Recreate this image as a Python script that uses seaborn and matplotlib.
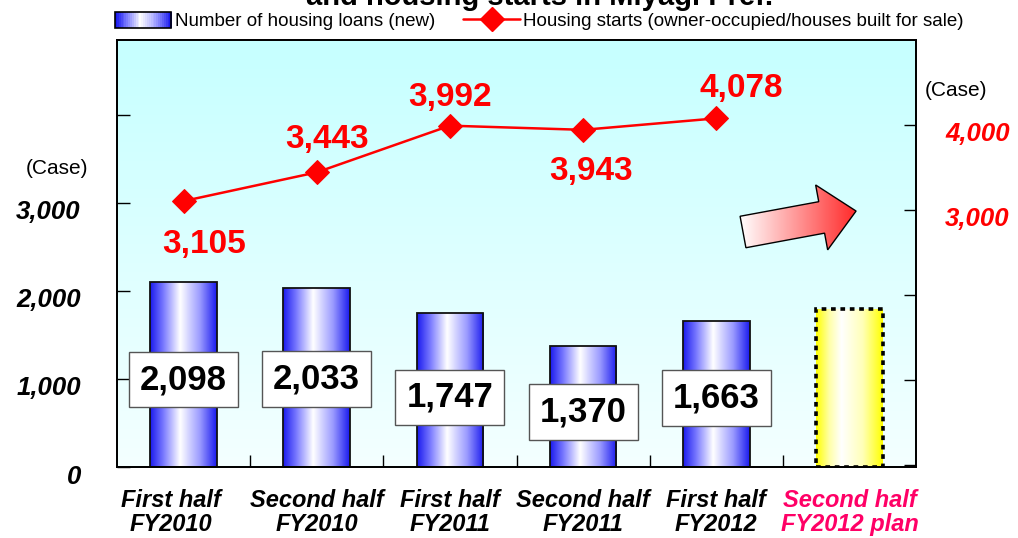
import numpy as np
import matplotlib
matplotlib.use("Agg")
import matplotlib.pyplot as plt
import seaborn as sns
from matplotlib.colors import LinearSegmentedColormap
from matplotlib.patches import Polygon, Rectangle
from matplotlib.lines import Line2D
from matplotlib.legend_handler import HandlerBase
from matplotlib.transforms import ScaledTranslation

# Data
periods = ["First half\nFY2010", "Second half\nFY2010", "First half\nFY2011",
           "Second half\nFY2011", "First half\nFY2012", "Second half\nFY2012 plan"]
loans = [2098, 2033, 1747, 1370, 1663, 1800]
loan_labels = ["2,098", "2,033", "1,747", "1,370", "1,663"]
starts = [3105, 3443, 3992, 3943, 4078]
start_labels = ["3,105", "3,443", "3,992", "3,943", "4,078"]
left_ticks = [0, 1000, 2000, 3000, 4000]
left_ticklabels = ["0", "1,000", "2,000", "3,000", ""]
right_ticks = [0, 1000, 2000, 3000, 4000]
right_ticklabels = ["", "", "", "3,000", "4,000"]

# label placement (data units for the boxes, pixel offsets for the red numbers)
loan_label_y = [990, 1000, 790, 625, 785]
start_offsets = [(21, -43), (10, 33), (0, 28), (8, -42), (25, 30)]

sns.set_style("white")
plt.rcParams["font.family"] = ["Liberation Sans", "DejaVu Sans"]
plt.rcParams["text.color"] = "black"
plt.rcParams["xtick.color"] = "black"
plt.rcParams["ytick.color"] = "black"
plt.rcParams["axes.labelcolor"] = "black"

W, H = 1018, 538
fig = plt.figure(figsize=(W / 100, H / 100), dpi=100)
ax = fig.add_axes([117 / W, 71 / H, 799 / W, 427 / H])

# background gradient
bg = LinearSegmentedColormap.from_list("bg", ["#f4ffff", "#c6ffff"])
ax.imshow(np.linspace(0, 1, 256).reshape(-1, 1), cmap=bg, origin="lower",
          extent=[0, 1, 0, 1], transform=ax.transAxes, aspect="auto", zorder=0)

blue = LinearSegmentedColormap.from_list(
    "blue", [(0, "#1a1aee"), (0.2, "#7a7aff"), (0.45, "#ffffff"), (0.75, "#9a9aff"), (1, "#1a1aee")])
yellow = LinearSegmentedColormap.from_list(
    "yellow", [(0, "#ffff00"), (0.2, "#ffffa8"), (0.38, "#ffffff"), (0.7, "#ffffb8"), (1, "#ffff00")])

sns.barplot(x=periods, y=loans, ax=ax, width=0.5, color="blue")

grad = np.linspace(0, 1, 256).reshape(1, -1)
for i, bar in enumerate(ax.containers[0]):
    x0, w, h = bar.get_x(), bar.get_width(), bar.get_height()
    im = ax.imshow(grad, cmap=yellow if i == len(loans) - 1 else blue,
                   extent=[x0, x0 + w, 0, h], aspect="auto", zorder=2)
    im.set_clip_path(bar)
    bar.set_facecolor("none")
    bar.set_zorder(3)
    if i == len(loans) - 1:
        bar.set_edgecolor("black")
        bar.set_linewidth(2.6)
        bar.set_linestyle((0, (1.3, 1.3)))
    else:
        bar.set_edgecolor("#111111")
        bar.set_linewidth(1.3)

for i, (txt, yy) in enumerate(zip(loan_labels, loan_label_y)):
    ax.text(i, yy, txt, ha="center", va="center", fontsize=25, fontweight="bold", color="black",
            zorder=5, bbox=dict(boxstyle="square,pad=0.32", fc="white", ec="#555555", lw=1))

# gradient arrow
ang = np.deg2rad(10.5)
d = np.array([np.cos(ang), -np.sin(ang)])
n = np.array([np.sin(ang), np.cos(ang)])
local = [(0, -16), (80, -16), (80, -33), (115, 0), (80, 33), (80, 16), (0, 16)]
pts = [np.array([743, 232]) + u * d + v * n for u, v in local]
pts_ax = np.array([((x - 117) / 799, (467 - y) / 427) for x, y in pts])
arrow = Polygon(pts_ax, closed=True, transform=ax.transAxes, fc="none", ec="black", lw=1, zorder=4)
ax.add_patch(arrow)
red = LinearSegmentedColormap.from_list("red", ["#ffffff", "#ff2a2a"])
aim = ax.imshow(grad, cmap=red, extent=[pts_ax[:, 0].min(), pts_ax[:, 0].max(), 0, 1],
                transform=ax.transAxes, aspect="auto", zorder=3.5)
aim.set_clip_path(arrow)

# line on secondary axis
ax2 = ax.twinx()
sns.lineplot(x=np.arange(len(starts)), y=starts, ax=ax2, color="red", lw=1.8,
             marker="D", markersize=12, markeredgecolor="red")
for i, (txt, v) in enumerate(zip(start_labels, starts)):
    dx, dy = start_offsets[i]
    ax2.annotate(txt, (i, v), xytext=(dx * 0.72, dy * 0.72), textcoords="offset points",
                 ha="center", va="center", color="red", fontsize=24, fontweight="bold")

ax.set_xlim(-0.5, 5.5)
ax.set_ylim(0, 4852)
ax2.set_ylim(-24, 5000)
ax.set_xlabel("")
ax.set_ylabel("")
ax2.set_ylabel("")

ax.set_yticks(left_ticks, left_ticklabels)
ax2.set_yticks(right_ticks, right_ticklabels)
ax.set_xticks(range(len(periods)), periods)
ax.set_xticks(np.arange(0.5, 5, 1), minor=True)

ax.tick_params(axis="y", direction="in", length=9, width=1, pad=26, left=True,
               labelsize=18.5, color="black", labelcolor="black")
ax2.tick_params(axis="y", direction="in", length=9, width=1, pad=21, right=True,
                labelsize=18.5, labelcolor="red", color="black")
ax.tick_params(axis="x", which="major", length=0, pad=16, labelsize=17, labelcolor="black")
ax.tick_params(axis="x", which="minor", direction="in", length=9, width=1, bottom=True, color="black")

shift = ScaledTranslation(0, -7 / 100, fig.dpi_scale_trans)
for lab in ax.get_yticklabels() + ax2.get_yticklabels():
    lab.set_fontweight("bold")
    lab.set_fontstyle("italic")
    lab.set_transform(lab.get_transform() + shift)
for i, lab in enumerate(ax.get_xticklabels()):
    lab.set_fontweight("bold")
    lab.set_fontstyle("italic")
    lab.set_linespacing(1.05)
    if i == 0:
        lab.set_transform(lab.get_transform() + ScaledTranslation(-13 / 100, 0, fig.dpi_scale_trans))
    if i == len(periods) - 1:
        lab.set_color("#ff0066")

for a in (ax, ax2):
    for sp in a.spines.values():
        sp.set_color("black")
        sp.set_linewidth(1.3)

# units
fig.text(57 / W, 1 - 168 / H, "(Case)", ha="center", va="center", fontsize=15)
fig.text(956 / W, 1 - 90 / H, "(Case)", ha="center", va="center", fontsize=15)

# title (cut off at the top like the original)
fig.text(0.53, 1 - 11 / H, "and housing starts in Miyagi Pref.", ha="center", va="bottom",
         fontsize=21, fontweight="bold")


class GradientHandler(HandlerBase):
    def create_artists(self, legend, orig_handle, xdescent, ydescent, width, height, fontsize, trans):
        arts = []
        k = 30
        for j, c in enumerate(blue(np.linspace(0, 1, k))):
            arts.append(Rectangle((-xdescent + j * width / k, -ydescent), width / k + 0.3, height,
                                  fc=c, ec="none", transform=trans))
        arts.append(Rectangle((-xdescent, -ydescent), width, height, fc="none", ec="black",
                              lw=1.2, transform=trans))
        return arts


bar_handle = Rectangle((0, 0), 1, 1)
line_handle = Line2D([], [], color="red", lw=1.8, marker="D", markersize=12)
fig.legend([bar_handle, line_handle],
           ["Number of housing loans (new)", "Housing starts (owner-occupied/houses built for sale)"],
           handler_map={bar_handle: GradientHandler()},
           loc="center", bbox_to_anchor=(0.53, 1 - 21 / H), ncol=2, frameon=False,
           prop={"family": "Liberation Sans", "size": 13.5},
           handlelength=3.0, handleheight=1.0, handletextpad=0.2, columnspacing=1.5,
           borderaxespad=0, borderpad=0)

fig.savefig("out.png", dpi=100)
